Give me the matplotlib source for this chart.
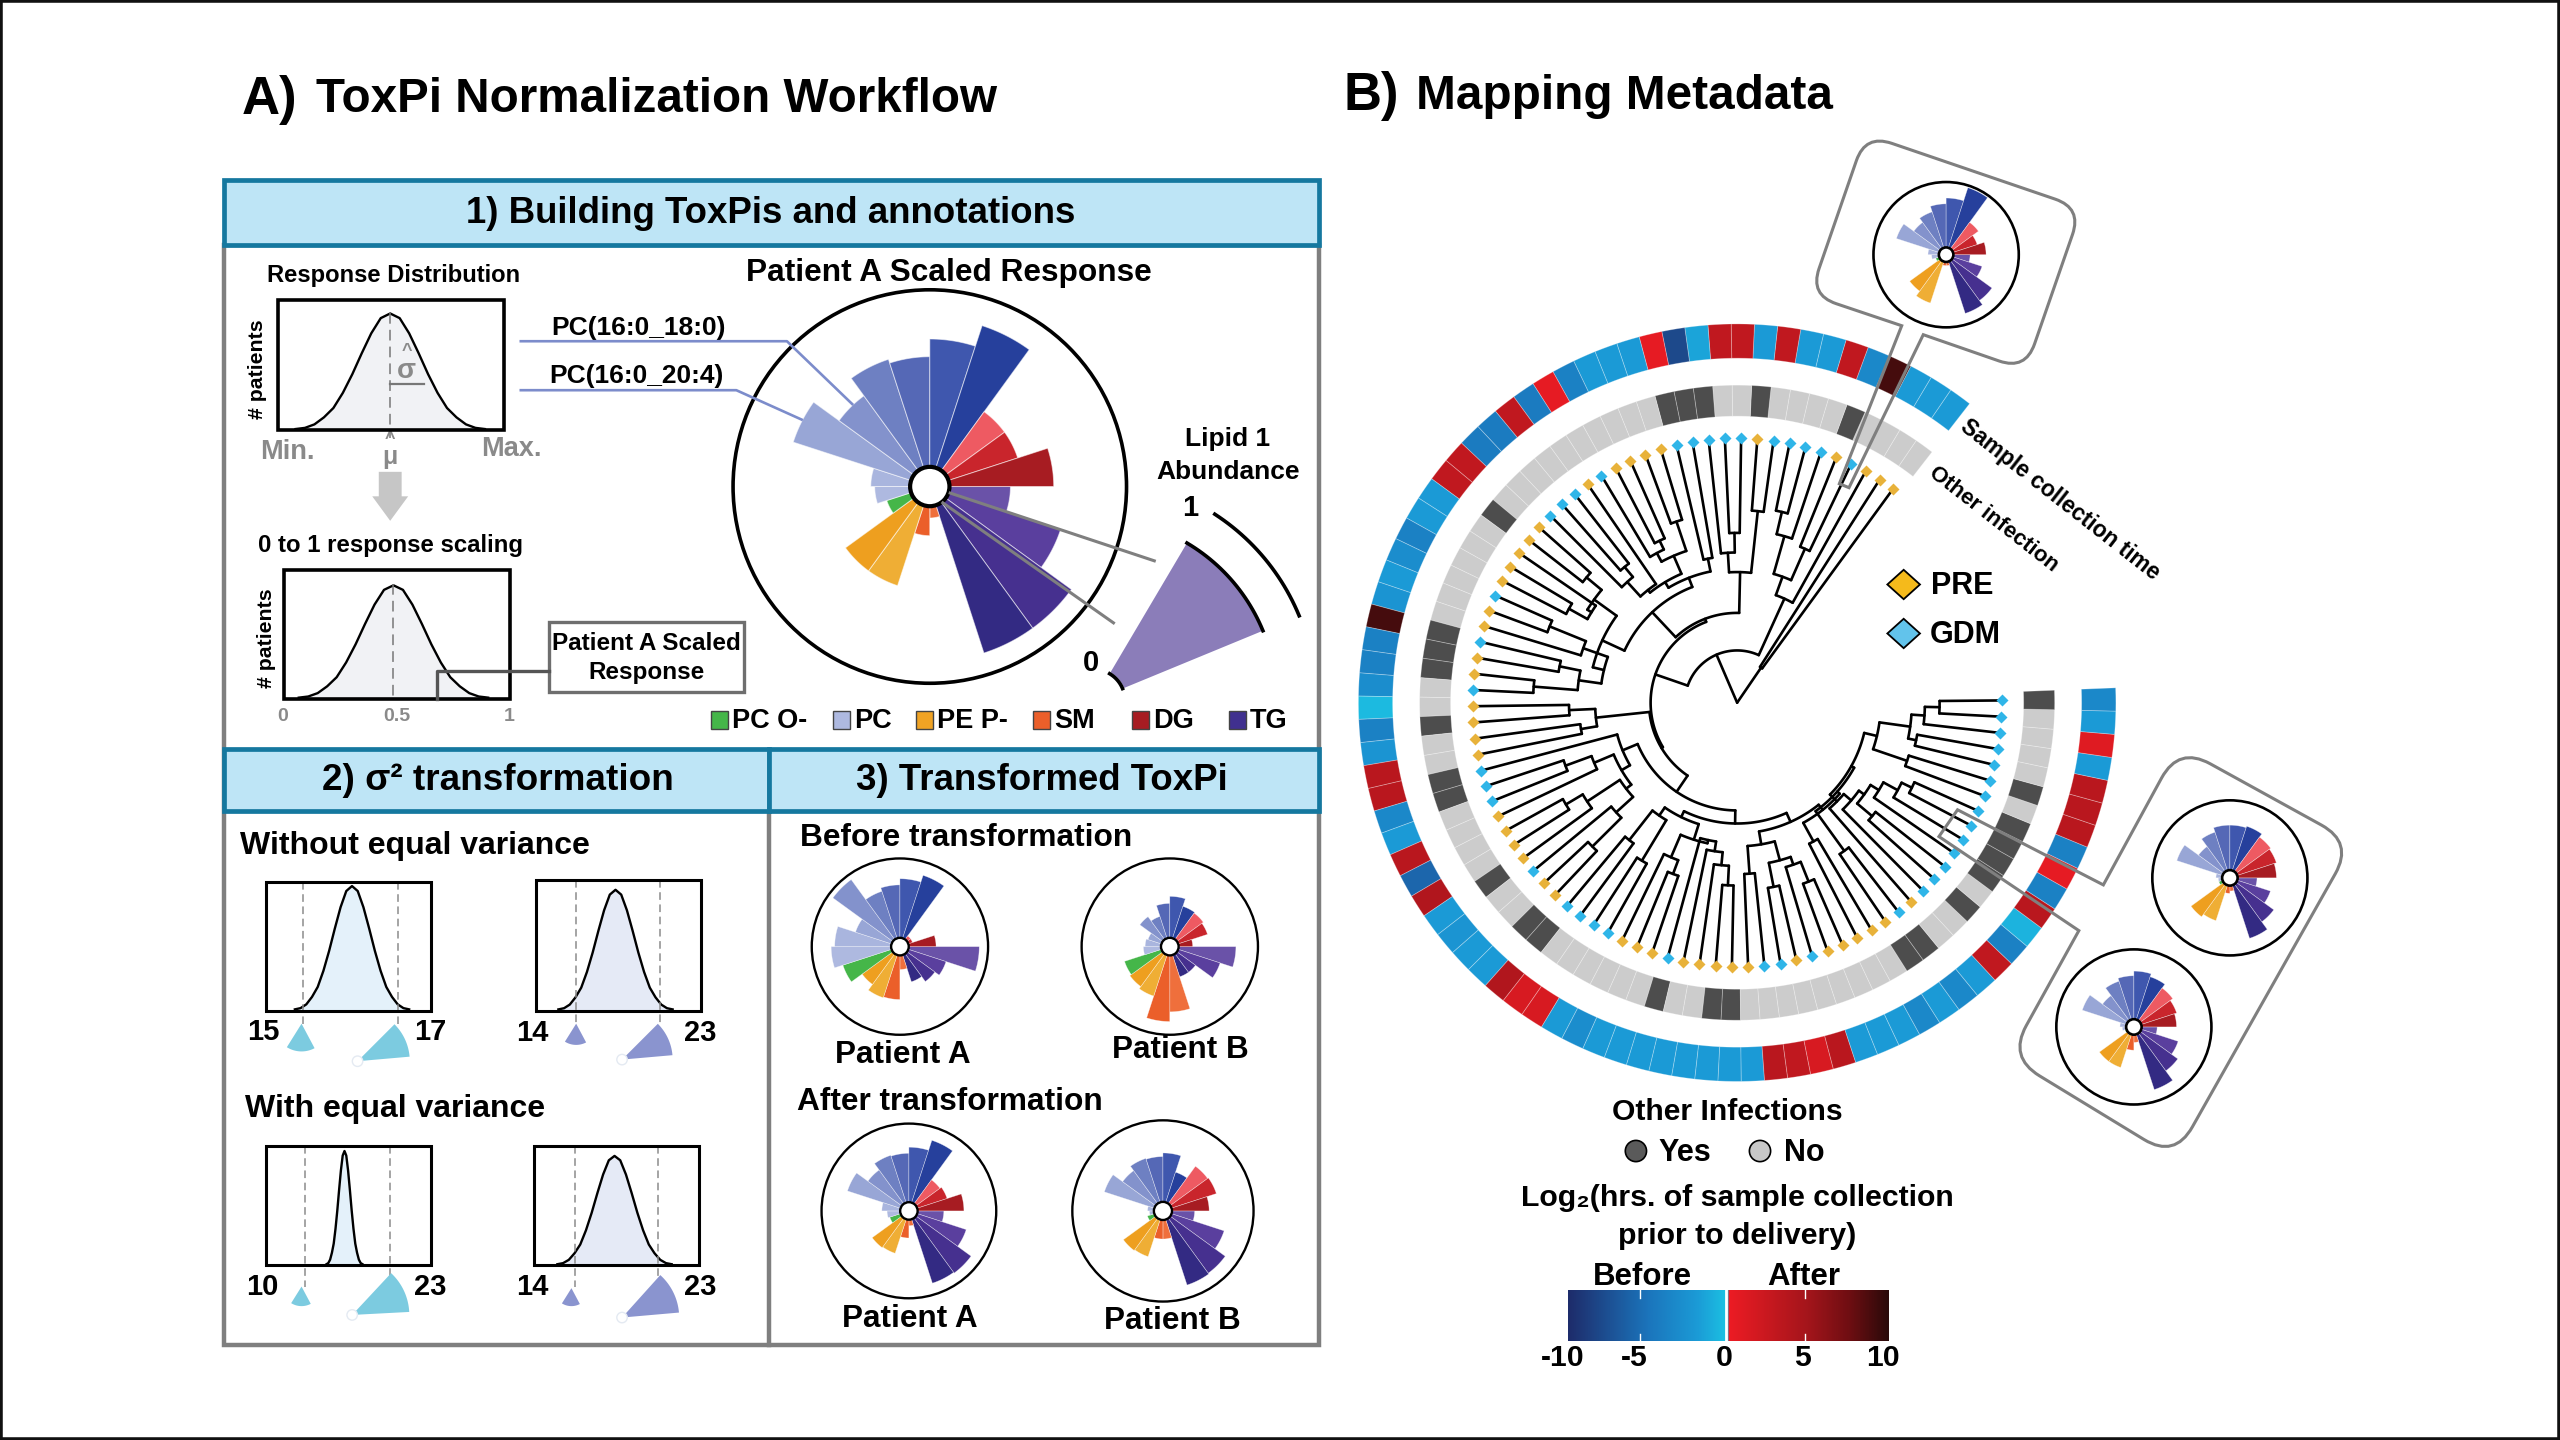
import numpy as np
import matplotlib
matplotlib.use('Agg')
import matplotlib.pyplot as plt
from matplotlib.colors import LinearSegmentedColormap
from matplotlib.patches import Circle, PathPatch, Rectangle
from matplotlib.path import Path

plt.rcParams['font.family'] = ['Liberation Sans', 'DejaVu Sans']

# slice colours, clockwise from east: TG, SM, PE P-, PC O-, PC, DG
slice_colors = ['#6A52A8', '#5A3F9E', '#46308F', '#332A83',
                '#EF6F3C', '#EB5F2A',
                '#EFAE35', '#EE9F1F',
                '#45B649',
                '#AEB9E0', '#A9B5DE', '#98A6D6', '#8392CC', '#6E80C2', '#5568B6', '#3F57AE', '#26409C',
                '#EE5A62', '#C9252C', '#A71C22']

# scaled response of each slice (1 = circle edge)
rose_main = [.41, .70, .89, .89, .16, .25, .53, .53, .23, .28, .30, .73, .57, .68, .66, .75, .86, .47, .47, .63]
rose_before_a = [.90, .55, .49, .42, .26, .60, .61, .53, .68, .78, .74, .53, .94, .66, .70, .77, .85, .15, .15, .41]
rose_before_b = [.75, .60, .36, .36, .74, .85, .59, .56, .54, .30, .28, .26, .42, .36, .49, .57, .48, .47, .45, .26]
rose_after_a = [.40, .69, .88, .87, .17, .31, .51, .52, .23, .25, .31, .74, .58, .67, .66, .73, .85, .44, .46, .63]
rose_after_b = [.35, .71, .85, .86, .31, .31, .53, .54, .18, .15, .17, .68, .55, .61, .60, .64, .45, .61, .62, .51]
rose_top = [.33, .52, .78, .85, .15, .15, .70, .62, .15, .20, .25, .72, .55, .62, .70, .78, .97, .55, .45, .55]
rose_right_up = [.35, .55, .70, .82, .17, .20, .58, .62, .15, .15, .18, .72, .50, .62, .68, .68, .70, .65, .63, .60]
rose_right_low = [.30, .60, .70, .85, .20, .30, .55, .55, .12, .15, .18, .70, .50, .62, .66, .72, .68, .62, .58, .55]

# bell curve
bell_u = [-1, -.9, -.8, -.7, -.6, -.5, -.4, -.3, -.2, -.1, 0, .1, .2, .3, .4, .5, .6, .7, .8, .9, 1]
bell_h = [.01, .02, .05, .11, .19, .32, .48, .66, .83, .96, 1, .96, .83, .66, .48, .32, .19, .11, .05, .02, .01]

# leaf groups round the tree, anticlockwise from the top right
leaf_group = list('PPPGPGGGGPGGGGGPPPPGPGGGPPPPPGPPGPPGPPPPGGGPPPPGPPGG'
                  'GGPPPGPPPPPGGPGPPPPPGPGGGGGGGGGGGGGG')
other_infection = [0, 0, 0, 0, 1, 0, 0, 0, 0, 1, 0, 0, 1, 1, 1, 0, 0, 0, 0, 0, 0, 0, 0, 0, 0, 1, 0, 0, 0, 0,
                   0, 0, 1, 1, 1, 0, 0, 1, 0, 0, 1, 1, 0, 0, 0, 0, 1, 0, 0, 1, 1, 0, 0, 0, 0, 0, 0, 1, 0, 0,
                   1, 1, 0, 0, 0, 0, 0, 0, 0, 0, 0, 1, 1, 0, 0, 1, 0, 1, 1, 1, 1, 0, 1, 0, 0, 0, 0, 1]
collection_time = [-2, -2, -2, 9, -3.5, 3, -2, -2, 3, -2, 3, 3, -1.5, -8, .5, -2, -2, -2, -4, .5, -4.5, 3, -4.5, -4.5,
                   3, 3, -2, -2, -4, -3, -2, -2.5, 9, -4, -4, -3, -.5, -4, -2.5, 3.5, 3.5, -3.5, -2, 3.5, -6, 4,
                   -2, -2.5, -2, -2, 4, 1.5, 1.5, -2, -3, -2, -2, -2, -2, -2, -2, -2, -2, 3.5, 3, 1.5, 3.5,
                   -2, -2, -2, -3.5, -2, -3.5, -2, 3, -4, -.8, 3.5, -4, .5, -4, 3.5, 3.5, 3.5, -2, 1, -2, -3.5]

# dendrogram: [branch radius, children...], an integer child is a leaf
tree = [0,
        [26, 0, 1],
        [32,
         [70, 2, [82, [103, 3, 4], [106, 5, [120, 6, 7]]]],
         [53,
          [55,
           [80, [118, 8, 9], [92, [104, 10, 11], 12]],
           [76,
            [82, [90, 13, 14],
             [86, [98, [117, 15, 16], [104, [110, 17, 18], 19]],
              [88, 20, [100, [108, 21, 22], 23]]]],
            [91, [108, [120, 24, 25], [105, 26, [118, 27, 28]]],
             [84, [100, [124, 29, 30], 31], [98, [111, 32, 33], [125, 34, 35]]]]]],
          [54,
           [87, [103, 36, 37], [97, 38, 39]],
           [66,
            [76, 40, [82, [95, [112, 41, 42], 43],
                      [86, [110, [122, 44, 45], 46], [100, 47, [125, 48, 49]]]]],
            [74,
             [78, [84, [107, 50, 51], [113, 52, 53]],
              [88, [103, 54, [112, 55, 56]], [86, 57, [92, 58, [100, 59, [112, 60, 61]]]]]],
             [80,
              [88, [105, 62, 63], [100, [115, 64, 65], [105, 66, [118, 67, 68]]]],
              [84, [97, 69, 70],
               [82, [112, 71, 72],
                [80, [86, 73, [92, 74, [96, [108, 75, 76], [102, 77, [112, 78, [119, 79, 80]]]]]],
                 [88, [110, 81, 82], [107, [112, 83, 84], [115, 85, [124, 86, 87]]]]]]]]]]]]]]

legend_labels = ['PC O-', 'PC', 'PE P-', 'SM', 'DG', 'TG']
legend_colors = ['#45B649', '#AEB9E0', '#F0A324', '#EB5F2A', '#A71C22', '#40308F']
bar_ticks = [-10, -5, 0, 5, 10]
bar_colors = [(0, '#1E2C6B'), (.25, '#1B75BC'), (.4, '#1B9AD6'), (.499, '#1CC4E3'),
              (.501, '#ED1C24'), (.75, '#A3151B'), (.88, '#6E0E12'), (1, '#2A0A0A')]
time_cmap = LinearSegmentedColormap.from_list('time', bar_colors)

BOLD = {'fontweight': 'bold', 'ha': 'center', 'va': 'center', 'color': 'black'}
GREY = '#7F7F7F'
TEAL = '#15789F'

fig = plt.figure(figsize=(25.6, 14.4), dpi=100)
ax = fig.add_axes([0, 0, 1, 1])
ax.set_xlim(0, 1568)
ax.set_ylim(882, 0)
ax.axis('off')


def txt(x, y, s, size, **kw):
    opts = dict(BOLD)
    opts.update(kw)
    ax.text(x, y + 2, s, fontsize=size, **opts)


def arc_xy(cx, cy, r, a1, a2):
    t = np.radians(np.linspace(a1, a2, max(2, int(abs(a2 - a1) / 1.5) + 2)))
    return cx + r * np.cos(t), cy - r * np.sin(t)


def sector(cx, cy, r0, r1, a1, a2, color, ec='none', lw=0, z=2):
    x1, y1 = arc_xy(cx, cy, r1, a1, a2)
    x0, y0 = arc_xy(cx, cy, r0, a2, a1)
    ax.fill(np.r_[x1, x0], np.r_[y1, y0], color=color, ec=ec, lw=lw, zorder=z)


def rose(cx, cy, R, values, lw=1.8, hole_lw=None, gap=.4):
    step = 18
    for i, v in enumerate(values):
        sector(cx, cy, 0, R * v, -i * step - step, -i * step, slice_colors[i],
               ec=(1, 1, 1, .55), lw=gap, z=3)
    ax.add_patch(Circle((cx, cy), R, fc='none', ec='black', lw=lw, zorder=4))
    ax.add_patch(Circle((cx, cy), R * .10, fc='white', ec='black', lw=hole_lw or lw, zorder=5))


def density(x0, x1, y0, y1, cx, hw, top, fill, dash=(), lw=2.2):
    xs = cx + hw * np.array(bell_u)
    ys = y1 - (y1 - top) * np.array(bell_h)
    ax.fill_between(xs, ys, y1, color=fill, lw=0, zorder=2)
    ax.plot(xs, ys, color='black', lw=1.7, zorder=3)
    ax.add_patch(Rectangle((x0, y0), x1 - x0, y1 - y0, fc='none', ec='black', lw=lw, zorder=4))
    for xd, yd in dash:
        ax.plot([xd, xd], [y0, yd], color='#8C8C8C', lw=1.1, ls=(0, (5, 3)), zorder=3)


def rounded(pts, corners, rad, **kw):
    verts, codes = [], []
    n = len(pts)
    for i, p in enumerate(pts):
        p = np.array(p, float)
        if i in corners:
            a = np.array(pts[i - 1], float)
            b = np.array(pts[(i + 1) % n], float)
            p0 = p + (a - p) / np.linalg.norm(a - p) * rad
            p1 = p + (b - p) / np.linalg.norm(b - p) * rad
            verts += [p0, p, p1]
            codes += [Path.LINETO, Path.CURVE3, Path.CURVE3]
        else:
            verts.append(p)
            codes.append(Path.LINETO)
    codes[0] = Path.MOVETO
    verts.append(verts[0])
    codes.append(Path.CLOSEPOLY)
    ax.add_patch(PathPatch(Path(verts, codes), **kw))


# frame of the whole picture
ax.add_patch(Rectangle((0, 0), 1568, 882, fc='none', ec='#111111', lw=4, zorder=20))

# titles
txt(165, 59, 'A)', 38)
txt(402, 59, 'ToxPi Normalization Workflow', 34.3)
txt(840, 57, 'B)', 38)
txt(995, 57, 'Mapping Metadata', 34.4)

# panel A frames
ax.add_patch(Rectangle((137, 150), 671, 674, fc='white', ec=GREY, lw=3.2, zorder=1))
ax.plot([471, 471], [497, 824], color=GREY, lw=3.2, zorder=1)
ax.add_patch(Rectangle((137, 458), 671, 4, fc=GREY, ec='none', zorder=1))
for x0, y0, w, h in [(137, 110, 671, 40), (137, 459, 334, 38), (471, 459, 337, 38)]:
    ax.add_patch(Rectangle((x0, y0), w, h, fc='#BEE5F6', ec=TEAL, lw=3.4, zorder=2))
txt(472, 129, '1) Building ToxPis and annotations', 26.4)
txt(305, 476, '2) σ² transformation', 26.6)
txt(638, 476, '3) Transformed ToxPi', 26.4)

# response distribution
txt(241, 167, 'Response Distribution', 17.1)
density(170.5, 309, 184, 263.5, 239, 58, 192, '#F1F2F5', lw=2.6)
ax.plot([239, 239], [192, 268], color='#777777', lw=1.1, ls=(0, (7, 4)), zorder=3)
ax.plot([239, 260], [235, 235], color='#777777', lw=1.6, zorder=3)
txt(249, 225, 'σ', 20, color='#8A8A8A')
txt(249, 213, '^', 13, color='#8A8A8A')
txt(176, 275, 'Min.', 19.5, color='#8A8A8A')
txt(313, 273, 'Max.', 19.5, color='#8A8A8A')
txt(239, 278, 'μ', 18, color='#8A8A8A')
txt(239, 267, '^', 13, color='#8A8A8A')
txt(158, 224, '# patients', 15.3, rotation=90)
ax.fill([232, 246, 246, 250, 239, 228, 232], [289, 289, 304, 304, 319, 304, 304], color='#C6C6C6', lw=0, zorder=2)

# scaling box
txt(239, 332, '0 to 1 response scaling', 17.3)
density(174, 312.5, 349, 428, 241, 58, 358.5, '#F1F2F5', lw=2.6)
ax.plot([241, 241], [358, 428], color='#777777', lw=1.1, ls=(0, (7, 4)), zorder=3)
ax.plot([267.5, 267.5, 336], [428, 411, 411], color='#555555', lw=2.4, zorder=5)
ax.add_patch(Rectangle((336, 381), 120, 43, fc='white', ec='#6E6E6E', lw=2.4, zorder=2))
txt(396, 392, 'Patient A Scaled', 17.5)
txt(396, 410, 'Response', 17.5)
txt(163, 389, '# patients', 15.3, rotation=90)
for xt, yt, lab in [(173, 437, '0'), (243, 437, '0.5'), (312, 437, '1')]:
    txt(xt, yt, lab, 14, color='#8A8A8A')

# main rose
txt(581, 165, 'Patient A Scaled Response', 22.8)
rose(569.5, 298, 120.5, rose_main, lw=2.6, hole_lw=3, gap=.7)
ax.plot([319, 482, 522], [209, 209, 247.5], color='#7C8CCB', lw=1.9, zorder=6)
ax.plot([319, 451, 491], [239, 239, 257], color='#7C8CCB', lw=1.9, zorder=6)
txt(391, 199, 'PC(16:0_18:0)', 19)
txt(390, 228, 'PC(16:0_20:4)', 19)
ax.plot([582, 707], [302, 343.5], color=GREY, lw=2.2, zorder=6)
ax.plot([577.5, 682], [308, 381.5], color=GREY, lw=2.2, zorder=6)

# lipid slice
sector(670, 429, 20, 112, 22.4, 59.4, '#8B7DB9', z=3)
xa, ya = arc_xy(670, 429, 112, 22.4, 59.4)
ax.plot(xa, ya, color='black', lw=2.6, zorder=4)
xa, ya = arc_xy(670, 429, 19, 22.4, 59.4)
ax.plot(xa, ya, color='black', lw=2.6, zorder=4)
xa, ya = arc_xy(670, 429, 136, 22.4, 57)
ax.plot(xa, ya, color='black', lw=2.6, zorder=4)
txt(752, 267, 'Lipid 1', 19)
txt(752, 287, 'Abundance', 19)
txt(729, 309, '1', 21)
txt(668, 404, '0', 21)

# lipid class legend
legend_x = [435.5, 510, 561, 632.5, 693.5, 752.5]
for lx, lab, col in zip(legend_x, legend_labels, legend_colors):
    ax.add_patch(Rectangle((lx, 435.5), 10.5, 11, fc=col, ec='#444444', lw=1, zorder=3))
    txt(lx + 13, 439.5, lab, 19.5, ha='left')

# variance panels
txt(147, 516, 'Without equal variance', 23, ha='left')
txt(150, 677, 'With equal variance', 23, ha='left')
density(163, 264, 540, 619, 215.6, 35, 542.7, '#E4F1FA', [(185.5, 627), (244, 627)])
density(328.5, 429.5, 539, 619, 377, 35, 545, '#E5EAF6', [(352.8, 627), (404.3, 627)])
density(163, 264, 702, 775, 211, 11, 705, '#E4F1FA', [(186.9, 788), (238.9, 788)])
density(327, 428, 702, 775, 376.4, 35, 708, '#E5EAF6', [(352, 788), (403, 788)])
CY = '#7CCBE0'
PU = '#8A94CF'
for x_l, x_r, yl, s1, s2 in [(161, 263.5, 631, '15', '17'), (326.3, 428.8, 632, '14', '23'),
                             (160.6, 263.3, 787, '10', '23'), (326, 428.6, 787.5, '14', '23')]:
    txt(x_l, yl - 1, s1, 21)
    txt(x_r, yl - 1, s2, 21)
for cx, cy, r0, r1, col in [(184.7, 627, 17, 0, CY), (352.9, 627, 13, 0, PU), (184.7, 788, 12, 0, CY), (350, 789, 11, 0, PU)]:
    sector(cx, cy, 0, r0, -122, -62, col, z=3)
for cx, cy, rr, a1, a2, col in [(219, 650, 32, 5, 45, CY), (381, 649, 31, 5, 45, PU),
                                (215.7, 805.4, 35, 3, 47, CY), (381, 807, 35, 5, 48, PU)]:
    sector(cx, cy, 3, rr, a1, a2, col, z=3)
    ax.add_patch(Circle((cx, cy), 3.2, fc='white', ec='#E4EAF2', lw=1, zorder=4))

# transformed ToxPis
txt(490, 511, 'Before transformation', 22.8, ha='left')
txt(488, 673, 'After transformation', 22.8, ha='left')
rose(551.2, 579.8, 54, rose_before_a, lw=1.7)
rose(716.5, 579.8, 54, rose_before_b, lw=1.7)
rose(556.7, 741.7, 53.5, rose_after_a, lw=1.7)
rose(712.3, 741.7, 55.5, rose_after_b, lw=1.7)
for xt, yt, lab in [(553, 644, 'Patient A'), (723, 641, 'Patient B'), (557, 806, 'Patient A'), (718, 807, 'Patient B')]:
    txt(xt, yt, lab, 22.7)

# circular dendrogram
CX, CY0 = 1064, 430.4
LEAF_R = 160
START, STEP = 53.9, 3.524


def draw_node(node):
    if isinstance(node, int):
        return START + STEP * node, LEAF_R
    r = node[0]
    kids = [draw_node(k) for k in node[1:]]
    first, last = kids[0][0], kids[-1][0]
    for ang, rk in kids:
        xr, yr = arc_xy(CX, CY0, r, ang, ang)
        xk, yk = arc_xy(CX, CY0, rk, ang, ang)
        ax.plot([xr[0], xk[0]], [yr[0], yk[0]], color='black', lw=1.9, solid_capstyle='round', zorder=3)
    if r > 0:
        xa, ya = arc_xy(CX, CY0, r, first, last)
        ax.plot(xa, ya, color='black', lw=1.9, solid_capstyle='round', zorder=3)
    return (first + last) / 2, r


draw_node(tree)
leaf_colors = {'P': '#E8B23A', 'G': '#2FB5E8'}
for i, g in enumerate(leaf_group):
    lx, ly = arc_xy(CX, CY0, 162, START + STEP * i, START + STEP * i)
    ax.plot(lx[0], ly[0], marker='D', ms=6.4, mfc=leaf_colors[g], mec='none', zorder=4)

# rings
for i, (inf, val) in enumerate(zip(other_infection, collection_time)):
    a = START + STEP * i
    sector(CX, CY0, 175.5, 194.5, a - STEP / 2, a + STEP / 2, '#4D4D4D' if inf else '#CCCCCC',
           ec=(1, 1, 1, .3), lw=.6, z=2)
    sector(CX, CY0, 211, 232, a - STEP / 2, a + STEP / 2, time_cmap((val + 10) / 20),
           ec=(1, 1, 1, .3), lw=.6, z=2)
txt(1262, 304, 'Sample collection time', 16.4, rotation=-38, rotation_mode='anchor')
txt(1221, 316, 'Other infection', 16, rotation=-38, rotation_mode='anchor')

# PRE / GDM legend
for yy, col, lab, xl in [(358, '#F5BA1B', 'PRE', 1183), (388, '#62C3EB', 'GDM', 1182)]:
    ax.fill([1156, 1166, 1176, 1166], [yy, yy - 9, yy, yy + 9], fc=col, ec='black', lw=1.3, zorder=3)
    txt(xl, yy - 1, lab, 22, ha='left')

# callouts
callout = dict(fc='none', ec='#7F7F7F', lw=2.2, zorder=6)
rounded([(1142.6, 82.3), (1275, 127.5), (1240.6, 226.7), (1178, 205), (1132.5, 298.7), (1126.6, 296.3),
         (1164.8, 199.5), (1108.6, 180.6)], {0, 1, 2, 7}, 17, **callout)
rounded([(1334.5, 457.2), (1441.2, 516), (1332, 709.4), (1230.4, 647.5), (1273.3, 570), (1187.6, 512.4),
         (1199, 496), (1288.3, 542)], {0, 1, 2, 3}, 22, **callout)
rose(1192, 156, 44.5, rose_top, lw=1.9)
rose(1365.8, 537.7, 47.5, rose_right_up, lw=1.9)
rose(1307, 629, 47.5, rose_right_low, lw=1.9)

# lower legends
txt(1058, 679, 'Other Infections', 21.7)
ax.add_patch(Circle((1002, 705), 6.5, fc='#5A5A5A', ec='black', lw=1.2, zorder=3))
ax.add_patch(Circle((1078, 705), 6.5, fc='#C8C8C8', ec='black', lw=1.2, zorder=3))
txt(1016, 704, 'Yes', 22, ha='left')
txt(1093, 704, 'No', 22, ha='left')
txt(1064, 732, 'Log₂(hrs. of sample collection', 21.8)
txt(1064, 755, 'prior to delivery)', 21.8)
txt(1006, 780, 'Before', 22.5)
txt(1105, 780, 'After', 22.5)

ramp = np.linspace(0, 1, 400).reshape(1, -1)
ax.imshow(ramp, cmap=time_cmap, extent=(960.4, 1156.7, 821.5, 790.4), aspect='auto', zorder=2)
ax.set_xlim(0, 1568)
ax.set_ylim(882, 0)
ax.plot([1057, 1057], [790, 822], color='white', lw=2, zorder=3)
for xt in [1004.5, 1105.5]:
    ax.plot([xt, xt], [790.4, 795], color='white', lw=1, zorder=3)
    ax.plot([xt, xt], [817, 821.5], color='white', lw=1, zorder=3)
for xt, tick in zip([957, 1001, 1056, 1104, 1153], bar_ticks):
    txt(xt, 830, str(tick), 21.7)

fig.savefig('out.png', dpi=100)
